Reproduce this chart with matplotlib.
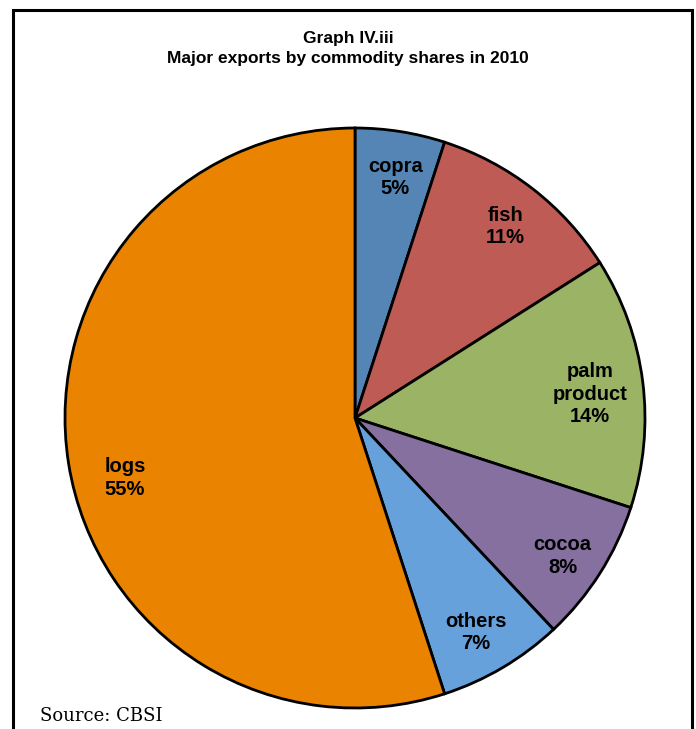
import numpy as np
import matplotlib.pyplot as plt
from matplotlib.patches import Rectangle

# Datos del gráfico
categorias = ['copra', 'fish', 'palm\nproduct', 'cocoa', 'others', 'logs']
porcentajes = [5, 11, 14, 8, 7, 55]
colores = ['#5585B5', '#BE5B55', '#9BB365', '#8570A0', '#66A1DC', '#E98300']

fig = plt.figure(figsize=(6.96, 7.29), dpi=100)

# Marco exterior
fig.patches.append(Rectangle((13 / 696, -0.01), (692 - 13) / 696, 1 - 10 / 729 + 0.01,
                             transform=fig.transFigure, fill=False,
                             edgecolor='black', linewidth=2.2))

# Títulos
fig.text(0.5, 1 - 38 / 729, 'Graph IV.iii', ha='center', va='center',
         fontsize=12.5, fontweight='bold', family='Liberation Sans')
fig.text(0.5, 1 - 59 / 729, 'Major exports by commodity shares in 2010', ha='center',
         va='center', fontsize=12.5, fontweight='bold', family='Liberation Sans')

# Eje del pastel (centro en 355, 418 px, radio 290 px)
cx, cy, r = 355, 418, 290
ax = fig.add_axes([(cx - r) / 696, (729 - cy - r) / 729, 2 * r / 696, 2 * r / 729])
wedges, _ = ax.pie(porcentajes, colors=colores, startangle=90, counterclock=False,
                   radius=1, wedgeprops={'edgecolor': 'black', 'linewidth': 2})
ax.set_xlim(-1, 1)
ax.set_ylim(-1, 1)
ax.set_aspect('auto')
ax.axis('off')

# Etiquetas dentro de cada porción (distancia al centro y ajuste de ángulo)
distancias = [0.84, 0.84, 0.815, 0.86, 0.85, 0.82]
ajustes = [-0.5, -0.3, -1.4, -1.2, -1.2, 5.6]
for w, nombre, p, d, a in zip(wedges, categorias, porcentajes, distancias, ajustes):
    ang = np.deg2rad((w.theta1 + w.theta2) / 2 + a)
    ax.text(d * np.cos(ang), d * np.sin(ang), f'{nombre}\n{p}%', ha='center', va='center',
            fontsize=14.5, fontweight='bold', family='Liberation Sans', linespacing=1.22)

# Fuente
fig.text(40 / 696, 1 - 716 / 729, 'Source: CBSI', ha='left', va='center',
         fontsize=13, family='DejaVu Serif')

plt.savefig('out.png', dpi=100)
